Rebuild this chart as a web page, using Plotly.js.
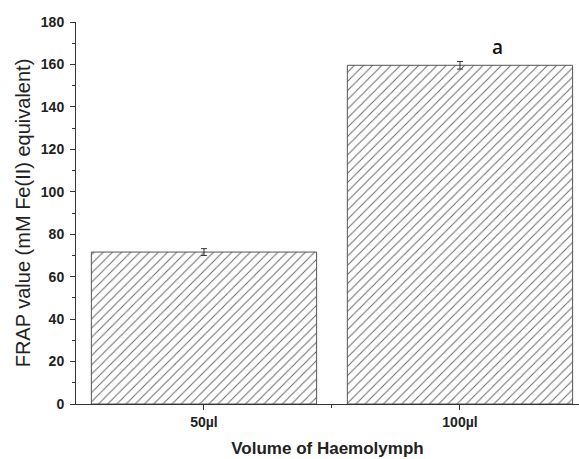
<!DOCTYPE html>
<html>
<head>
<meta charset="utf-8">
<script src="https://cdn.plot.ly/plotly-3.0.1.min.js"></script>
<style>html,body{margin:0;padding:0;background:#fff;}#chart{width:579px;height:459px;}</style>
</head>
<body>
<div id="chart"></div>
<script>
const categories = ["50µl", "100µl"];
const frapValues = [71.6, 159.6];
const frapErrors = [1.6, 1.8];
const significance = ["", "a"];
const yTitle = "FRAP value (mM Fe(II) equivalent)";
const xTitle = "Volume of Haemolymph";

const xIdx = categories.map((_, i) => i);

const trace = {
  type: "bar",
  x: xIdx,
  y: frapValues,
  width: 0.88,
  marker: {
    color: "#ffffff",
    line: { color: "#555555", width: 1 },
    pattern: { shape: "/", size: 6.5, solidity: 0.15, fgcolor: "#666666", bgcolor: "#ffffff" }
  },
  error_y: { type: "data", array: frapErrors, visible: true, color: "#333333", thickness: 1, width: 3 },
  hoverinfo: "skip"
};

const annotations = [];
significance.forEach((s, i) => {
  if (s) {
    annotations.push({
      x: xIdx[i] + 0.145, y: frapValues[i] + 8.5, xref: "x", yref: "y",
      text: s, showarrow: false,
      font: { family: "Open Sans", size: 19, weight: 600, color: "#111111" }
    });
  }
});

const layout = {
  width: 579, height: 459,
  margin: { l: 76, r: 0, t: 22, b: 55 },
  paper_bgcolor: "#ffffff", plot_bgcolor: "#ffffff",
  showlegend: false,
  font: { family: "Liberation Sans, Arial, sans-serif", color: "#222222" },
  xaxis: {
    range: [-0.5, 1.465],
    tickmode: "array", tickvals: xIdx, ticktext: categories,
    ticks: "outside", ticklen: 5, tickwidth: 1, tickcolor: "#333333",
    minor: { tickmode: "array", tickvals: [0.5], ticks: "outside", ticklen: 3, tickwidth: 1, tickcolor: "#333333", showgrid: false },
    showline: true, linecolor: "#333333", linewidth: 1,
    showgrid: false, zeroline: false,
    tickfont: { size: 14, weight: "bold", color: "#222222" },
    title: { text: xTitle, font: { size: 17, weight: "bold", color: "#222222" }, standoff: 13 }
  },
  yaxis: {
    range: [0, 180],
    tickmode: "linear", tick0: 0, dtick: 20,
    ticks: "outside", ticklen: 5, tickwidth: 1, tickcolor: "#333333",
    ticklabelstandoff: 3,
    minor: { dtick: 10, ticks: "outside", ticklen: 3, tickwidth: 1, tickcolor: "#333333", showgrid: false },
    showline: true, linecolor: "#333333", linewidth: 1,
    showgrid: false, zeroline: false,
    tickfont: { size: 14, weight: "bold", color: "#222222" },
    title: { text: yTitle, font: { size: 20, color: "#222222" }, standoff: 4 }
  },
  annotations: annotations
};

Plotly.newPlot("chart", [trace], layout, { displayModeBar: false, staticPlot: true });
</script>
</body>
</html>
